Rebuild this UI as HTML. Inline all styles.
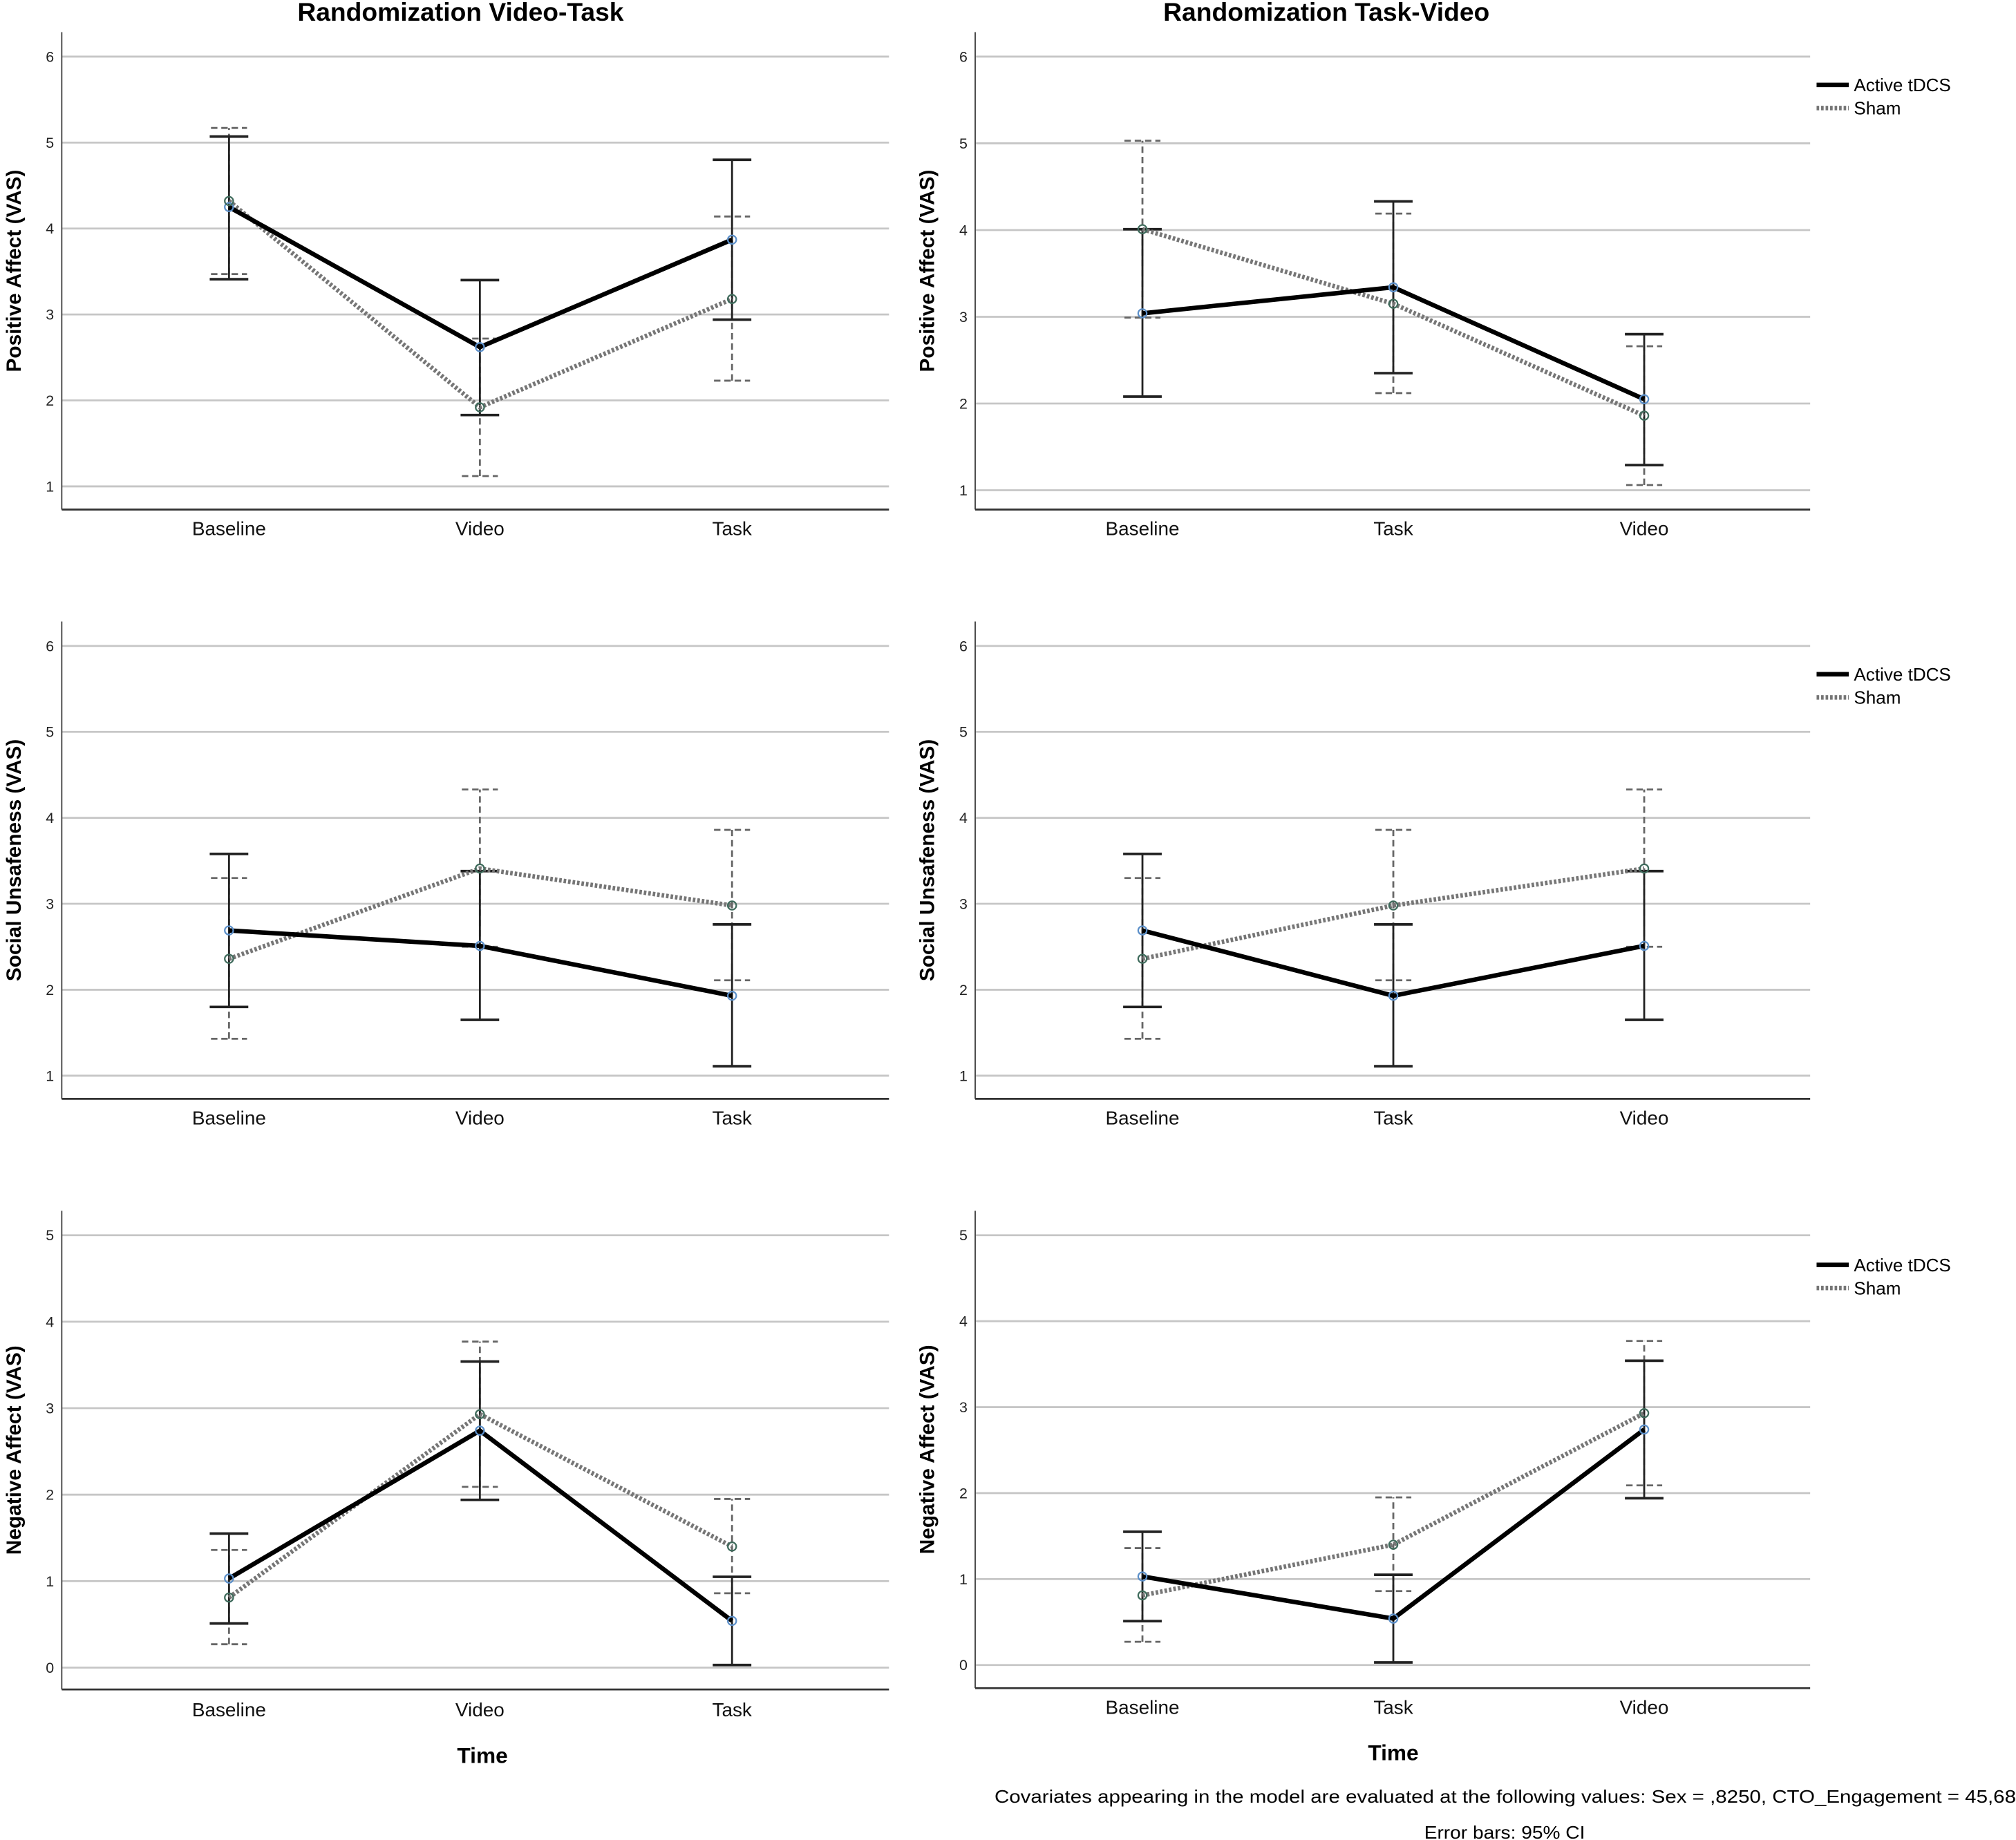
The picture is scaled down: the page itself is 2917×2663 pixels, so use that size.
<!DOCTYPE html>
<html><head><meta charset="utf-8"><style>
html,body{margin:0;padding:0;background:#fff;}
svg{display:block;font-family:"Liberation Sans",sans-serif;}
</style></head><body>
<svg id="chart" width="2917" height="2663" viewBox="0 0 1567 1430" preserveAspectRatio="none" xmlns="http://www.w3.org/2000/svg">
<text x="358" y="16" text-anchor="middle" font-size="20" font-weight="bold">Randomization Video-Task</text>
<text x="1031" y="16" text-anchor="middle" font-size="20" font-weight="bold">Randomization Task-Video</text>
<text x="375" y="1370" text-anchor="middle" font-size="17" font-weight="bold">Time</text>
<text x="1083" y="1368" text-anchor="middle" font-size="17" font-weight="bold">Time</text>
<text x="773" y="1401" font-size="14" textLength="794" lengthAdjust="spacingAndGlyphs">Covariates appearing in the model are evaluated at the following values: Sex = ,8250, CTO_Engagement = 45,68</text>
<text x="1107" y="1429" font-size="14" textLength="125" lengthAdjust="spacingAndGlyphs">Error bars: 95% CI</text>
</svg>
<script>
const catsVT = ["Baseline","Video","Task"];
const catsTV = ["Baseline","Task","Video"];
const yTitles = ["Positive Affect (VAS)","Social Unsafeness (VAS)","Negative Affect (VAS)"];
const yTicksPos = [1,2,3,4,5,6];
const yTicksNeg = [0,1,2,3,4,5];
const paActive = [4.25,2.62,3.87];
const paActiveLo = [3.41,1.83,2.94];
const paActiveHi = [5.07,3.40,4.80];
const paSham = [4.32,1.92,3.18];
const paShamLo = [3.47,1.12,2.23];
const paShamHi = [5.17,2.72,4.14];
const pa2Active = [3.04,3.34,2.05];
const pa2ActiveLo = [2.08,2.35,1.29];
const pa2ActiveHi = [4.01,4.33,2.80];
const pa2Sham = [4.01,3.15,1.86];
const pa2ShamLo = [2.99,2.12,1.06];
const pa2ShamHi = [5.03,4.19,2.66];
const suActive = [2.69,2.51,1.93];
const suActiveLo = [1.80,1.65,1.11];
const suActiveHi = [3.58,3.38,2.76];
const suSham = [2.36,3.41,2.98];
const suShamLo = [1.43,2.50,2.11];
const suShamHi = [3.30,4.33,3.86];
const naActive = [1.03,2.74,0.54];
const naActiveLo = [0.51,1.94,0.03];
const naActiveHi = [1.55,3.54,1.05];
const naSham = [0.81,2.93,1.40];
const naShamLo = [0.27,2.09,0.86];
const naShamHi = [1.36,3.77,1.95];

const NS="http://www.w3.org/2000/svg";
const svg=document.getElementById('chart');
function mk(tag,attrs,parent){const e=document.createElementNS(NS,tag);for(const k in attrs)e.setAttribute(k,attrs[k]);(parent||svg).appendChild(e);return e;}
function reorder(a){return [a[0],a[2],a[1]];}

const panels=[
 {col:0,row:0,cats:catsVT,ticks:yTicksPos,min:1,max:6,top:25,y0:378,y1:44,bot:396,lab:416,t:0,
  a:paActive,aL:paActiveLo,aH:paActiveHi,s:paSham,sL:paShamLo,sH:paShamHi},
 {col:1,row:0,cats:catsTV,ticks:yTicksPos,min:1,max:6,top:25,y0:381,y1:44,bot:396,lab:416,t:0,
  a:pa2Active,aL:pa2ActiveLo,aH:pa2ActiveHi,s:pa2Sham,sL:pa2ShamLo,sH:pa2ShamHi},
 {col:0,row:1,cats:catsVT,ticks:yTicksPos,min:1,max:6,top:483,y0:836,y1:502,bot:854,lab:874,t:1,
  a:suActive,aL:suActiveLo,aH:suActiveHi,s:suSham,sL:suShamLo,sH:suShamHi},
 {col:1,row:1,cats:catsTV,ticks:yTicksPos,min:1,max:6,top:483,y0:836,y1:502,bot:854,lab:874,t:1,
  a:reorder(suActive),aL:reorder(suActiveLo),aH:reorder(suActiveHi),s:reorder(suSham),sL:reorder(suShamLo),sH:reorder(suShamHi)},
 {col:0,row:2,cats:catsVT,ticks:yTicksNeg,min:0,max:5,top:941,y0:1296,y1:960,bot:1313,lab:1334,t:2,
  a:naActive,aL:naActiveLo,aH:naActiveHi,s:naSham,sL:naShamLo,sH:naShamHi},
 {col:1,row:2,cats:catsTV,ticks:yTicksNeg,min:0,max:5,top:941,y0:1294,y1:960,bot:1312,lab:1332,t:2,
  a:reorder(naActive),aL:reorder(naActiveLo),aH:reorder(naActiveHi),s:reorder(naSham),sL:reorder(naShamLo),sH:reorder(naShamHi)}
];

panels.forEach((p,pi)=>{
  const L=p.col?758:48, R=p.col?1407:691;
  const cx=p.col?[888,1083,1278]:[178,373,569];
  const y=v=>p.y0+(v-p.min)*(p.y1-p.y0)/(p.max-p.min);
  const g=mk('g',{});
  
  
  p.ticks.forEach(t=>{
    const gl=mk('line',{x1:L,x2:R,y1:y(t),y2:y(t),stroke:'#c6c6c6','stroke-width':1.5},g);
    
    
    const tl=mk('text',{x:L-6,y:y(t)+4,'text-anchor':'end','font-size':11.5,fill:'#222'},g);
    tl.textContent=t;
    
    
  });
  const ya=mk('line',{x1:L,x2:L,y1:p.top,y2:p.bot,stroke:'#444','stroke-width':1},g);
  
  
  const xa=mk('line',{x1:L,x2:R,y1:p.bot,y2:p.bot,stroke:'#333','stroke-width':1.5},g);
  
  
  const mid=(p.top+p.bot)/2;
  const yt=mk('text',{x:0,y:0,'text-anchor':'middle','font-size':16,'font-weight':'bold',transform:`translate(${L-32},${mid}) rotate(-90)`},g);
  yt.textContent=yTitles[p.t];
  
  
  p.cats.forEach((c,i)=>{
    const cl=mk('text',{x:cx[i],y:p.lab,'text-anchor':'middle','font-size':15,fill:'#111'},g);
    cl.textContent=c;
    
    
  });
  p.cats.forEach((c,i)=>{
    const e=mk('g',{stroke:'#666','stroke-width':1.5,'stroke-dasharray':'5 3'},g);
    
    
    mk('line',{x1:cx[i],x2:cx[i],y1:y(p.sL[i]),y2:y(p.sH[i])},e);
    mk('line',{x1:cx[i]-14,x2:cx[i]+14,y1:y(p.sL[i]),y2:y(p.sL[i])},e);
    mk('line',{x1:cx[i]-14,x2:cx[i]+14,y1:y(p.sH[i]),y2:y(p.sH[i])},e);
  });
  p.cats.forEach((c,i)=>{
    const e=mk('g',{stroke:'#222','stroke-width':1.5},g);
    
    
    mk('line',{x1:cx[i],x2:cx[i],y1:y(p.aL[i]),y2:y(p.aH[i])},e);
    mk('line',{x1:cx[i]-15,x2:cx[i]+15,y1:y(p.aL[i]),y2:y(p.aL[i]),'stroke-width':2},e);
    mk('line',{x1:cx[i]-15,x2:cx[i]+15,y1:y(p.aH[i]),y2:y(p.aH[i]),'stroke-width':2},e);
  });
  const sl=mk('polyline',{points:p.s.map((v,i)=>cx[i]+','+y(v)).join(' '),fill:'none',stroke:'#767676','stroke-width':3.5,'stroke-dasharray':'2 1.5'},g);
  
  
  const al=mk('polyline',{points:p.a.map((v,i)=>cx[i]+','+y(v)).join(' '),fill:'none',stroke:'#000','stroke-width':3.5},g);
  
  
  p.a.forEach((v,i)=>{
    const m=mk('circle',{cx:cx[i],cy:y(v),r:3.3,fill:'none',stroke:'#5b8fc9','stroke-width':1.2},g);
    
    
  });
  p.s.forEach((v,i)=>{
    const m=mk('circle',{cx:cx[i],cy:y(v),r:3.3,fill:'none',stroke:'#3f6b5c','stroke-width':1.2},g);
    
    
  });
  if(p.col===1){
    const ly=[66,524,983][p.row];
    const lg=mk('g',{},g);
    
    
    mk('line',{x1:1412,x2:1437,y1:ly,y2:ly,stroke:'#000','stroke-width':3.5},lg);
    const t1=mk('text',{x:1441,y:ly+5,'font-size':14},lg);t1.textContent='Active tDCS';
    
    
    mk('line',{x1:1412,x2:1437,y1:ly+18,y2:ly+18,stroke:'#767676','stroke-width':3.5,'stroke-dasharray':'2 1.5'},lg);
    const t2=mk('text',{x:1441,y:ly+23,'font-size':14},lg);t2.textContent='Sham';
    
    
  }
});
</script>
</body></html>
